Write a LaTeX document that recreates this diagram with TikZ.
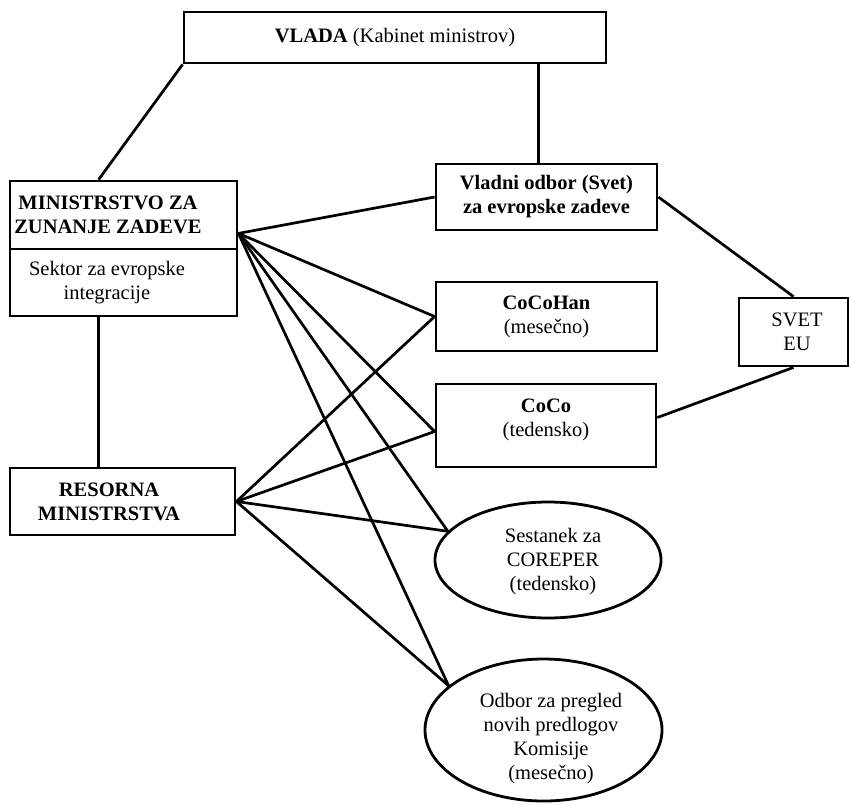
\documentclass[tikz,border=0pt]{standalone}
\usepackage{fontspec}
\setmainfont{Liberation Serif}
\usetikzlibrary{shapes.geometric,calc}
\begin{document}
\begin{tikzpicture}[x=1pt,y=-1pt,
  every node/.style={font=\fontsize{20.5}{24}\selectfont, align=center, inner sep=0pt},
  box/.style={draw, line width=2.8pt, rectangle, inner sep=0pt},
  oval/.style={draw, line width=2.8pt, ellipse, inner sep=0pt},
  conn/.style={line width=2.7pt}]
\useasboundingbox (0,0) rectangle (850,804);
% boxes
\node[box, minimum width=422pt, minimum height=51pt] (vlada) at (395,37.5) {\textbf{VLADA} (Kabinet ministrov)};
\node[box, minimum width=227pt, minimum height=68pt] (mzzt) at (123.5,215) {};
\node[box, minimum width=227pt, minimum height=67pt] (mzzb) at (123.5,282.5) {};
\node (mzztext) at (108,215) {\textbf{MINISTRSTVO ZA}\\\textbf{ZUNANJE ZADEVE}};
\node (sektor) at (107,283) {Sektor za evropske\\integracije};
\node[box, minimum width=225pt, minimum height=67pt] (res) at (122.5,501.5) {};
\node (restext) at (109,501.5) {\textbf{RESORNA}\\\textbf{MINISTRSTVA}};
\node[box, minimum width=221pt, minimum height=66pt] (vladni) at (546.5,197) {\textbf{Vladni odbor (Svet)}\\\textbf{za evropske zadeve}};
\node[box, minimum width=221pt, minimum height=69pt] (cocohan) at (546.5,316.5) {\textbf{CoCoHan}\\(mesečno)};
\node[box, minimum width=220pt, minimum height=83pt] (coco) at (546,425.5) {};
\node (cocotext) at (546,419.5) {\textbf{CoCo}\\(tedensko)};
\node[box, minimum width=109pt, minimum height=68pt] (svet) at (793.5,332) {};
\node (svettext) at (797,332) {SVET\\EU};
\node[oval, minimum width=226pt, minimum height=116pt] (ses) at (548,560) {};
\node (sestext) at (553,562) {Sestanek za\\COREPER\\(tedensko)};
\node[oval, minimum width=237pt, minimum height=142pt] (odb) at (543.5,730) {};
\node (odbtext) at (551,739) {Odbor za pregled\\novih predlogov\\Komisije\\(mesečno)};
% anchor points
\coordinate (fa) at ($(mzzt.south east)+(0,-17)$);
\coordinate (cocoL) at ($(coco.west)+(0,6)$);
\coordinate (cocoR) at ($(coco.east)+(0,-8)$);
\coordinate (vt) at ($(vladni.north)+(-8,0)$);
\coordinate (mt) at ($(mzzt.north west)+(90,0)$);
\coordinate (mb) at ($(mzzb.south west)+(90,0)$);
% connectors
\draw[conn] (vlada.south west) -- (mt);
\draw[conn] (vt) -- (vt |- vlada.south);
\draw[conn] (mb) -- (mb |- res.north);
\draw[conn] (fa) -- (vladni.west);
\draw[conn] (fa) -- (cocohan.west);
\draw[conn] (fa) -- (cocoL);
\draw[conn] (fa) -- (ses.164);
\draw[conn] (fa) -- (odb.155);
\draw[conn] (res.east) -- (cocohan.west);
\draw[conn] (res.east) -- (cocoL);
\draw[conn] (res.east) -- (ses.164);
\draw[conn] (res.east) -- (odb.155);
\draw[conn] (vladni.east) -- (svet.north);
\draw[conn] (cocoR) -- (svet.south);
\end{tikzpicture}
\end{document}
